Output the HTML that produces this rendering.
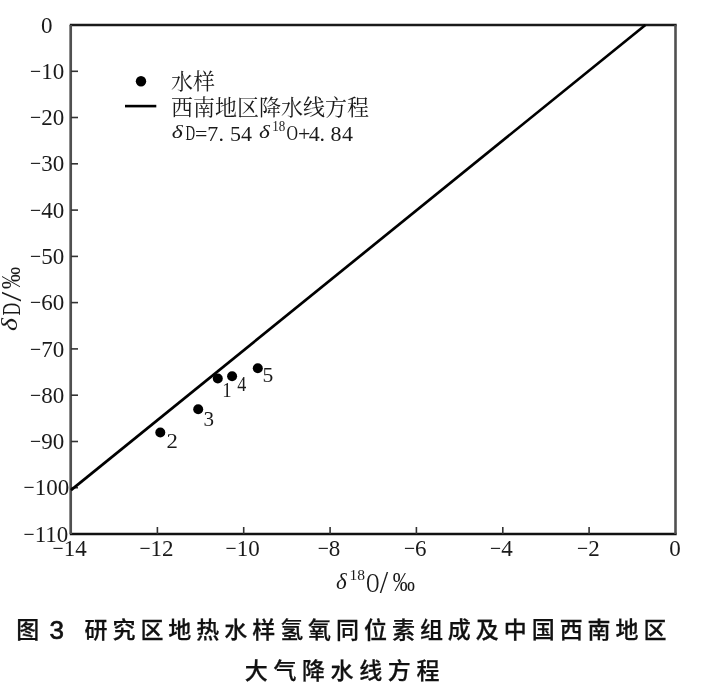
<!DOCTYPE html>
<html lang="zh-CN"><head><meta charset="utf-8"><style>
html,body{margin:0;padding:0;background:#fff;}
body{width:701px;height:692px;overflow:hidden;position:relative;filter:blur(0.35px);}
svg{position:absolute;left:0;top:0;}
text{font-family:"Liberation Serif",serif;fill:#1a1a1a;}
.num{font-size:23px;}
.lg{font-family:"Liberation Serif","Noto Serif CJK SC",serif;font-size:22px;font-weight:400;}
.eq{font-size:22px;}
.it{font-style:italic;}
.cap{position:absolute;font-family:"Liberation Sans","Noto Sans CJK SC",sans-serif;font-weight:500;font-size:23px;color:#111;-webkit-text-stroke:0.25px #111;white-space:nowrap;letter-spacing:6.2px;line-height:1;}
</style></head><body>
<svg width="701" height="692" viewBox="0 0 701 692">
<line x1="69.8" y1="25.0" x2="676.7" y2="25.0" stroke="#1a1a1a" stroke-width="2.5"/>
<line x1="69.8" y1="534.0" x2="676.7" y2="534.0" stroke="#111" stroke-width="2.6"/>
<line x1="70.7" y1="25.0" x2="70.7" y2="534.0" stroke="#505050" stroke-width="2.7"/>
<line x1="675.5" y1="25.0" x2="675.5" y2="534.0" stroke="#505050" stroke-width="2.6"/>
<line x1="71.0" y1="71.3" x2="78.0" y2="71.3" stroke="#333" stroke-width="1.6"/>
<line x1="71.0" y1="117.5" x2="78.0" y2="117.5" stroke="#333" stroke-width="1.6"/>
<line x1="71.0" y1="163.8" x2="78.0" y2="163.8" stroke="#333" stroke-width="1.6"/>
<line x1="71.0" y1="210.1" x2="78.0" y2="210.1" stroke="#333" stroke-width="1.6"/>
<line x1="71.0" y1="256.4" x2="78.0" y2="256.4" stroke="#333" stroke-width="1.6"/>
<line x1="71.0" y1="302.6" x2="78.0" y2="302.6" stroke="#333" stroke-width="1.6"/>
<line x1="71.0" y1="348.9" x2="78.0" y2="348.9" stroke="#333" stroke-width="1.6"/>
<line x1="71.0" y1="395.2" x2="78.0" y2="395.2" stroke="#333" stroke-width="1.6"/>
<line x1="71.0" y1="441.5" x2="78.0" y2="441.5" stroke="#333" stroke-width="1.6"/>
<line x1="71.0" y1="487.7" x2="78.0" y2="487.7" stroke="#333" stroke-width="1.6"/>
<text class="num" x="41.10" y="32.60">0</text>
<text class="num" transform="translate(30.04,78.87) scale(0.86,1)">−</text>
<text class="num" x="41.23" y="78.87">10</text>
<text class="num" transform="translate(30.04,125.15) scale(0.86,1)">−</text>
<text class="num" x="41.23" y="125.15">20</text>
<text class="num" transform="translate(30.04,171.42) scale(0.86,1)">−</text>
<text class="num" x="41.23" y="171.42">30</text>
<text class="num" transform="translate(30.04,217.69) scale(0.86,1)">−</text>
<text class="num" x="41.23" y="217.69">40</text>
<text class="num" transform="translate(30.04,263.96) scale(0.86,1)">−</text>
<text class="num" x="41.23" y="263.96">50</text>
<text class="num" transform="translate(30.04,310.24) scale(0.86,1)">−</text>
<text class="num" x="41.23" y="310.24">60</text>
<text class="num" transform="translate(30.04,356.51) scale(0.86,1)">−</text>
<text class="num" x="41.23" y="356.51">70</text>
<text class="num" transform="translate(30.04,402.78) scale(0.86,1)">−</text>
<text class="num" x="41.23" y="402.78">80</text>
<text class="num" transform="translate(30.04,449.05) scale(0.86,1)">−</text>
<text class="num" x="41.23" y="449.05">90</text>
<text class="num" transform="translate(23.49,495.33) scale(0.86,1)">−</text>
<text class="num" x="34.68" y="495.33">100</text>
<text class="num" transform="translate(23.49,541.60) scale(0.86,1)">−</text>
<text class="num" x="34.68" y="541.60">110</text>
<line x1="157.4" y1="534.0" x2="157.4" y2="527.0" stroke="#333" stroke-width="1.6"/>
<line x1="243.7" y1="534.0" x2="243.7" y2="527.0" stroke="#333" stroke-width="1.6"/>
<line x1="330.1" y1="534.0" x2="330.1" y2="527.0" stroke="#333" stroke-width="1.6"/>
<line x1="416.4" y1="534.0" x2="416.4" y2="527.0" stroke="#333" stroke-width="1.6"/>
<line x1="502.8" y1="534.0" x2="502.8" y2="527.0" stroke="#333" stroke-width="1.6"/>
<line x1="589.1" y1="534.0" x2="589.1" y2="527.0" stroke="#333" stroke-width="1.6"/>
<text class="num" transform="translate(52.58,556.00) scale(0.86,1)">−</text>
<text class="num" x="63.77" y="556.00">14</text>
<text class="num" transform="translate(139.40,556.00) scale(0.86,1)">−</text>
<text class="num" x="150.59" y="556.00">12</text>
<text class="num" transform="translate(225.56,556.00) scale(0.86,1)">−</text>
<text class="num" x="236.75" y="556.00">10</text>
<text class="num" transform="translate(317.66,556.00) scale(0.86,1)">−</text>
<text class="num" x="328.85" y="556.00">8</text>
<text class="num" transform="translate(403.93,556.00) scale(0.86,1)">−</text>
<text class="num" x="415.12" y="556.00">6</text>
<text class="num" transform="translate(490.12,556.00) scale(0.86,1)">−</text>
<text class="num" x="501.31" y="556.00">4</text>
<text class="num" transform="translate(576.94,556.00) scale(0.86,1)">−</text>
<text class="num" x="588.13" y="556.00">2</text>
<text class="num" x="669.35" y="556.00">0</text>
<line x1="71" y1="490.1" x2="645.4" y2="25" stroke="#000" stroke-width="2.7"/>
<circle cx="217.8" cy="378.5" r="5" fill="#000"/>
<circle cx="160.3" cy="432.5" r="5" fill="#000"/>
<circle cx="198.2" cy="409.3" r="5" fill="#000"/>
<circle cx="232.1" cy="376.3" r="5" fill="#000"/>
<circle cx="257.8" cy="368.2" r="5" fill="#000"/>
<text class="pl" transform="translate(222.16,396.70) scale(0.909,1)" style="font-size:20.61px">1</text>
<text class="pl" transform="translate(237.34,391.00) scale(0.867,1)" style="font-size:20.84px">4</text>
<text class="pl" transform="translate(262.56,381.50) scale(1.057,1)" style="font-size:20.45px">5</text>
<text class="pl" transform="translate(166.38,448.20) scale(1.047,1)" style="font-size:21.74px">2</text>
<text class="pl" transform="translate(203.50,426.28) scale(0.958,1)" style="font-size:22.01px">3</text>
<circle cx="141" cy="81.3" r="5.2" fill="#000"/>
<line x1="125" y1="106.1" x2="156.3" y2="106.1" stroke="#000" stroke-width="2.6"/>
<text class="lg" x="171" y="89">水样</text>
<text class="lg" x="171" y="114.5">西南地区降水线方程</text>
<text class="eq it" transform="translate(171.79,137.82) scale(1.289,1)" style="font-size:18.37px">δ</text>
<text class="eq" transform="translate(185.60,140.45) scale(0.649,1)" style="font-size:20.53px">D</text>
<text class="eq it" transform="translate(259.10,137.82) scale(1.265,1)" style="font-size:18.37px">δ</text>
<text class="eq" transform="translate(272.26,131.26) scale(0.956,1)" style="font-size:13.63px">18</text>
<text class="eq" transform="translate(286.56,140.40) scale(0.782,1)" style="font-size:20.37px">O</text>
<text class="eq" x="195.1" y="140.6">=</text>
<text class="eq" x="207.2" y="140.6">7</text>
<text class="eq" x="218.5" y="140.6">.</text>
<text class="eq" x="230.0" y="140.6">5</text>
<text class="eq" x="241.1" y="140.6">4</text>
<text class="eq" x="297.9" y="140.6">+</text>
<text class="eq" x="308.8" y="140.6">4</text>
<text class="eq" x="319.5" y="140.6">.</text>
<text class="eq" x="330.4" y="140.6">8</text>
<text class="eq" x="342.0" y="140.6">4</text>
<text class="ax it" transform="translate(336.01,588.97) scale(1.011,1)" style="font-size:22.76px">δ</text>
<text class="ax" transform="translate(349.44,580.05) scale(1.019,1)" style="font-size:15.26px">18</text>
<text class="ax" transform="translate(366.18,592.12) scale(0.655,1)" style="font-size:27.66px">O</text>
<text class="ax" transform="translate(379.70,593.38) scale(0.948,1)" style="font-size:31.94px">/</text>
<text class="ax" transform="translate(392.70,591.31) scale(0.843,1)" style="font-size:26.32px">‰</text>
<text class="ax it" transform="translate(17.38,330.93) rotate(-90) scale(1.249,1)" style="font-size:22.19px">δ</text>
<text class="ax" transform="translate(20.24,315.52) rotate(-90) scale(0.688,1)" style="font-size:25.40px">D</text>
<text class="ax" transform="translate(21.10,301.40) rotate(-90) scale(1.171,1)" style="font-size:29.85px">/</text>
<text class="ax" transform="translate(19.89,288.90) rotate(-90) scale(0.817,1)" style="font-size:27.06px">‰</text>
</svg>
<div class="cap" style="left:16.2px;top:618.5px;">图</div>
<div class="cap" style="left:49.5px;top:616.8px;font-size:26px;-webkit-text-stroke:0.7px #111;">3</div>
<div class="cap" style="left:84.5px;top:618.5px;letter-spacing:4.95px;">研究区地热水样氢氧同位素组成及中国西南地区</div>
<div class="cap" style="left:244.8px;top:660.3px;letter-spacing:5.6px;">大气降水线方程</div>
</body></html>
